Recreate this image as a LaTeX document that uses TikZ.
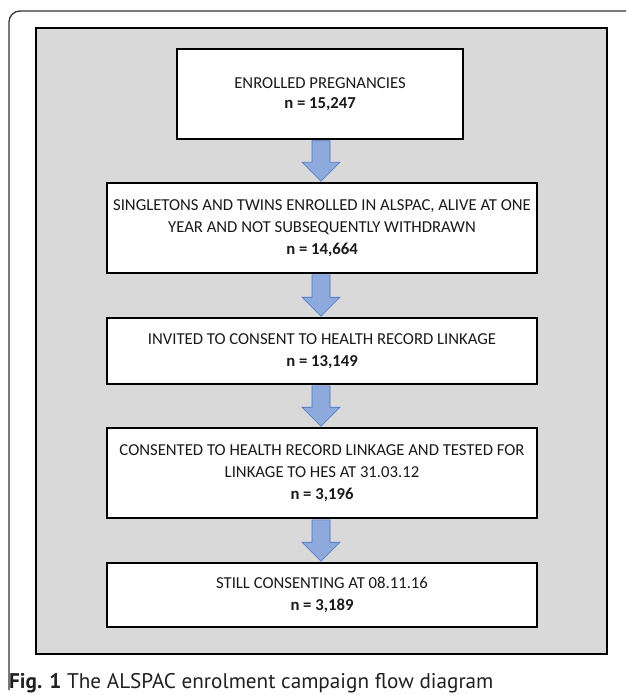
\documentclass[tikz,border=0pt]{standalone}
\usepackage{fontspec}
\setmainfont{Carlito}
\newfontfamily\capfont{PT Sans}
\usetikzlibrary{calc}
\definecolor{panelgray}{HTML}{D9D9D9}
\definecolor{arrowfill}{HTML}{8EA9DB}
\definecolor{arrowline}{HTML}{4472C4}
\definecolor{captext}{HTML}{231F20}
\definecolor{boxtext}{HTML}{1A1A1A}
\tikzset{
  flowbox/.style={draw=black, line width=1.6pt, fill=white, align=center, text=boxtext,
    font=\fontsize{16.7}{22}\selectfont, inner sep=0pt, anchor=center},
  blockarrow/.style={draw=arrowline, line width=0.6pt, fill=arrowfill, line join=miter},
}
\begin{document}
\begin{tikzpicture}[x=1pt,y=-1pt]
\useasboundingbox (0,0) rectangle (625,695);
% outer frame
\draw[black!80, line width=1.3pt, rounded corners=11pt] (626,11) -- (9,11) -- (9,690);
% panel
\draw[black, line width=1.6pt, fill=panelgray] (36,28) rectangle (607,654);
% boxes
\node[flowbox, minimum width=286pt, minimum height=90pt] (b1) at (320,94)
  {\raisebox{-2pt}{ENROLLED PREGNANCIES}\\\textbf{n = 15,247}};
\node[flowbox, minimum width=430pt, minimum height=90pt] (b2) at (322,228)
  {SINGLETONS AND TWINS ENROLLED IN ALSPAC, ALIVE AT ONE\\YEAR AND NOT SUBSEQUENTLY WITHDRAWN\\\textbf{n = 14,664}};
\node[flowbox, minimum width=430pt, minimum height=66pt] (b3) at (322,351)
  {INVITED TO CONSENT TO HEALTH RECORD LINKAGE\\\textbf{n = 13,149}};
\node[flowbox, minimum width=430pt, minimum height=90pt] (b4) at (322,473)
  {CONSENTED TO HEALTH RECORD LINKAGE AND TESTED FOR\\LINKAGE TO HES AT 31.03.12\\\textbf{n = 3,196}};
\node[flowbox, minimum width=430pt, minimum height=64pt] (b5) at (322,595)
  {STILL CONSENTING AT 08.11.16\\\textbf{n = 3,189}};
% block arrows
\foreach \a/\b in {b1/b2, b2/b3, b3/b4, b4/b5}{
  \draw[blockarrow]
    ($(\a.south -| 321,0)+(-9,1)$) -- ($(\a.south -| 321,0)+(9,1)$)
    -- ($(\b.north -| 321,0)+(9,-20)$) -- ($(\b.north -| 321,0)+(19,-20)$)
    -- ($(\b.north -| 321,0)+(0,-1)$)
    -- ($(\b.north -| 321,0)+(-19,-20)$) -- ($(\b.north -| 321,0)+(-9,-20)$) -- cycle;
}
% caption
\node[anchor=base west, inner sep=0pt, text=captext, font=\capfont\fontsize{21.2}{25}\selectfont] (cap) at (9,688)
  {\textbf{Fig. 1} The ALSPAC enrolment campaign flow diagram};
\end{tikzpicture}
\end{document}
